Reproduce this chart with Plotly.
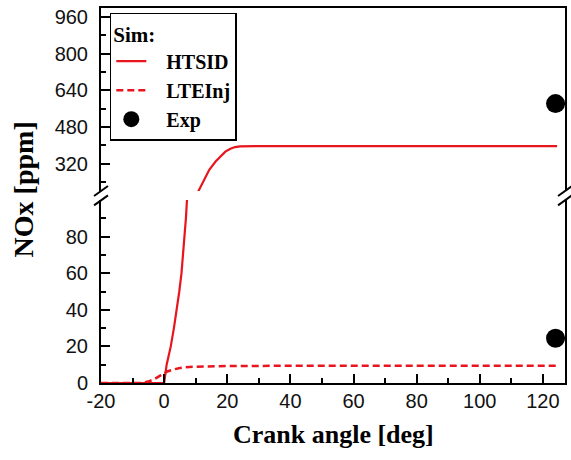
import plotly.graph_objects as go

# ---------------- data ----------------
htsid_x = [-20, -10, 0, 0.8, 2.1, 3.1, 4.0, 4.8, 5.5, 6.0, 6.5, 6.9, 7.2, 8.5, 9.8, 10.9,
           12.5, 14.3, 16.3, 18.0, 19.4, 21.0, 22.5, 24.0, 26.0, 29.0, 40, 60, 80, 100, 124.5]
htsid_y = [0, 0, 0, 10, 20, 30, 40, 50, 60, 70, 80, 90, 99, 135, 170, 203,
           250, 293, 329, 355, 372, 385, 392, 395, 396, 396, 396, 396, 396, 396, 396]

lte_x = [-20, -10, -7, -5, -3, -1, 0, 1, 3, 5, 8, 12, 20, 40, 80, 124.5]
lte_y = [0, 0, 0, 0.8, 2.2, 4.3, 5.4, 6.3, 7.4, 8.2, 8.8, 9.1, 9.3, 9.4, 9.4, 9.4]

exp_x_low = [124]
exp_y_low = [24.5]
exp_x_high = [124]
exp_y_high = [582]

legend_names = ["HTSID", "LTEInj", "Exp"]

x_range = [-20, 127]
x_ticks = [-20, 0, 20, 40, 60, 80, 100, 120]
x_ticktext = ["-20", "0", "20", "40", "60", "80", "100", "120"]
x_minor = [-10, 10, 30, 50, 70, 90, 110]
y_low_range = [0, 100]
y_high_range = [200, 1000]
y_low_ticks = [0, 20, 40, 60, 80]
y_low_minor = [10, 30, 50, 70, 90]

RED = "#e8141e"
TICKFONT = dict(family="Liberation Sans, Arial", size=20, color="#111")
SERIF = "Liberation Serif, Times New Roman, serif"
PAD = "\u00a0\u00a0\u00a0"

fig = go.Figure()

# lower panel
fig.add_trace(go.Scatter(x=htsid_x, y=htsid_y, mode="lines", name=PAD + legend_names[0],
                         line=dict(color=RED, width=2.2), xaxis="x", yaxis="y"))
fig.add_trace(go.Scatter(x=lte_x, y=lte_y, mode="lines", name=PAD + legend_names[1],
                         line=dict(color=RED, width=2.5, dash="7px,4px"), xaxis="x", yaxis="y"))
fig.add_trace(go.Scatter(x=exp_x_high, y=exp_y_high, mode="markers", name=PAD + legend_names[2],
                         marker=dict(color="black", size=19), xaxis="x2", yaxis="y2"))
fig.add_trace(go.Scatter(x=exp_x_low, y=exp_y_low, mode="markers", name=legend_names[2],
                         showlegend=False,
                         marker=dict(color="black", size=19), xaxis="x", yaxis="y"))
# upper panel
fig.add_trace(go.Scatter(x=htsid_x, y=htsid_y, mode="lines", name=legend_names[0], showlegend=False,
                         line=dict(color=RED, width=2.2), xaxis="x2", yaxis="y2"))

LOW_TOP = 0.488
HIGH_BOT = 0.512

axis_common = dict(showline=True, linecolor="black", linewidth=2, showgrid=False,
                   zeroline=False, ticks="inside", tickcolor="black", tickwidth=2,
                   ticklen=9, tickfont=TICKFONT)
minor_common = dict(ticks="inside", ticklen=5, tickcolor="black", tickwidth=2)

fig.update_layout(
    width=571, height=460,
    margin=dict(l=101, r=4, t=8, b=77),
    plot_bgcolor="white", paper_bgcolor="white",
    xaxis=dict(range=x_range, domain=[0, 1], anchor="y",
               tickmode="array", tickvals=x_ticks, ticktext=x_ticktext,
               ticklabelstandoff=-1,
               minor=dict(tickmode="array", tickvals=x_minor, **minor_common),
               **axis_common),
    xaxis2=dict(range=x_range, domain=[0, 1], anchor="y2", matches="x", side="top",
                showline=True, linecolor="black", linewidth=2, showgrid=False, zeroline=False,
                showticklabels=False, ticks=""),
    yaxis=dict(range=y_low_range, domain=[0, LOW_TOP], anchor="x", mirror=True,
               tickmode="array", tickvals=y_low_ticks, ticklabelstandoff=7,
               minor=dict(tickmode="array", tickvals=y_low_minor, **minor_common),
               **axis_common),
    yaxis2=dict(range=y_high_range, domain=[HIGH_BOT, 1], anchor="x2", mirror=True,
                tick0=0, dtick=160, ticklabelstandoff=7,
                minor=dict(dtick=80, tick0=0, **minor_common),
                **axis_common),
    legend=dict(x=0.019, y=0.987, xanchor="left", yanchor="top",
                bgcolor="white", bordercolor="black", borderwidth=1.5,
                font=dict(family=SERIF, size=20, color="black", weight="bold"),
                title=dict(text="<b>Sim:</b>", font=dict(family=SERIF, size=21, color="black")),
                tracegroupgap=0, itemsizing="trace"),
    showlegend=True,
)

# axis titles
fig.add_annotation(text="<b>Crank angle [deg]</b>", x=0.5, y=-0.136, xref="paper", yref="paper",
                   xanchor="center", yanchor="middle", showarrow=False,
                   font=dict(family=SERIF, size=26, color="black"))
fig.add_annotation(text="<b>NOx [ppm]</b>", x=-0.167, y=0.515, xref="paper", yref="paper",
                   xanchor="center", yanchor="middle", showarrow=False, textangle=-90,
                   font=dict(family=SERIF, size=28, color="black"))

# axis-break marks (left and right)
px_w = 1 / 466.0
px_h = 1 / 375.0
for x0 in (0.0, 1.0):
    for yc in (0.512, 0.487):
        fig.add_shape(type="line", xref="paper", yref="paper",
                      x0=x0 - 7 * px_w, y0=yc - 5 * px_h,
                      x1=x0 + 7 * px_w, y1=yc + 5 * px_h,
                      line=dict(color="black", width=2))

fig.write_html("out.html")
